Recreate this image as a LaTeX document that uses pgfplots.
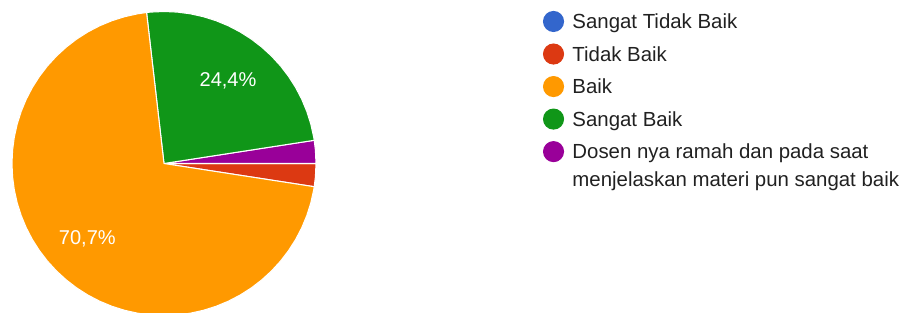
\documentclass[border=0pt]{standalone}
\usepackage{fontspec}
\setmainfont{Liberation Sans}
\usepackage{pgfplots}
\pgfplotsset{compat=1.18}
\usepgfplotslibrary{polar}
\definecolor{mblue}{HTML}{3366CC}
\definecolor{mred}{HTML}{DC3912}
\definecolor{morange}{HTML}{FF9900}
\definecolor{mgreen}{HTML}{109618}
\definecolor{mpurple}{HTML}{990099}
\definecolor{ltext}{HTML}{212121}
\begin{document}
\begin{tikzpicture}
\path[use as bounding box] (-123pt,-112.125pt) rectangle (564.75pt,122.625pt);
\begin{polaraxis}[
  at={(0pt,0pt)}, anchor=center,
  scale only axis, width=228pt, height=228pt,
  hide axis, ymin=0, ymax=1, xmin=0, xmax=360,
  clip=false,
  legend image code/.code={\fill (7.5pt,5.5pt) circle (7.5pt);},
  legend cell align=left,
  legend style={at={(1.7467,1.0018)}, anchor=north west, draw=none, fill=none,
    inner sep=0pt, outer sep=0pt, column sep=6.3pt, row sep=8.0pt,
    font=\fontsize{15.3}{21}\selectfont, text=ltext,
    nodes={inner sep=0pt, text height=13pt, text depth=3pt},
    cells={anchor=base west}},
  every axis plot/.append style={draw=white, line width=0.8pt},
]
% slice shares: 0, 1, 29, 10, 1 of 41 responses
% Tidak Baik (2,4%)
\addplot[fill=mred, forget plot] coordinates {(0,0) (-8.78,1) (-5,1) (0,1) (0,0)};
% Dosen nya ramah ... (2,4%)
\addplot[fill=mpurple, forget plot] coordinates {(0,0) (0,1) (5,1) (8.78,1) (0,0)};
% Sangat Baik (24,4%)
\addplot[fill=mgreen, forget plot] coordinates {(0,0) (8.78,1) (10,1) (15,1) (20,1) (25,1) (30,1) (35,1) (40,1) (45,1) (50,1) (55,1) (60,1) (65,1) (70,1) (75,1) (80,1) (85,1) (90,1) (95,1) (96.585,1) (0,0)};
% Baik (70,7%)
\addplot[fill=morange, forget plot] coordinates {(0,0) (96.585,1) (100,1) (105,1) (110,1) (115,1) (120,1) (125,1) (130,1) (135,1) (140,1) (145,1) (150,1) (155,1) (160,1) (165,1) (170,1) (175,1) (180,1) (185,1) (190,1) (195,1) (200,1) (205,1) (210,1) (215,1) (220,1) (225,1) (230,1) (235,1) (240,1) (245,1) (250,1) (255,1) (260,1) (265,1) (270,1) (275,1) (280,1) (285,1) (290,1) (295,1) (300,1) (305,1) (310,1) (315,1) (320,1) (325,1) (330,1) (335,1) (340,1) (345,1) (350,1) (351.22,1) (0,0)};
\node[text=white, font=\fontsize{15}{18}\selectfont, yshift=-1.2pt] at (axis cs:52.69,0.695) {24,4\%};
\node[text=white, font=\fontsize{15}{18}\selectfont, yshift=-1.2pt] at (axis cs:223.9,0.70) {70,7\%};
\addlegendimage{mblue, fill=mblue}
\addlegendentry{Sangat Tidak Baik}
\addlegendimage{mred, fill=mred}
\addlegendentry{Tidak Baik}
\addlegendimage{morange, fill=morange}
\addlegendentry{Baik}
\addlegendimage{mgreen, fill=mgreen}
\addlegendentry{Sangat Baik}
\addlegendimage{mpurple, fill=mpurple}
\addlegendentry{\begin{tabular}[t]{@{}l@{}}Dosen nya ramah dan pada saat\\menjelaskan materi pun sangat baik\end{tabular}}
\end{polaraxis}
\end{tikzpicture}
\end{document}
